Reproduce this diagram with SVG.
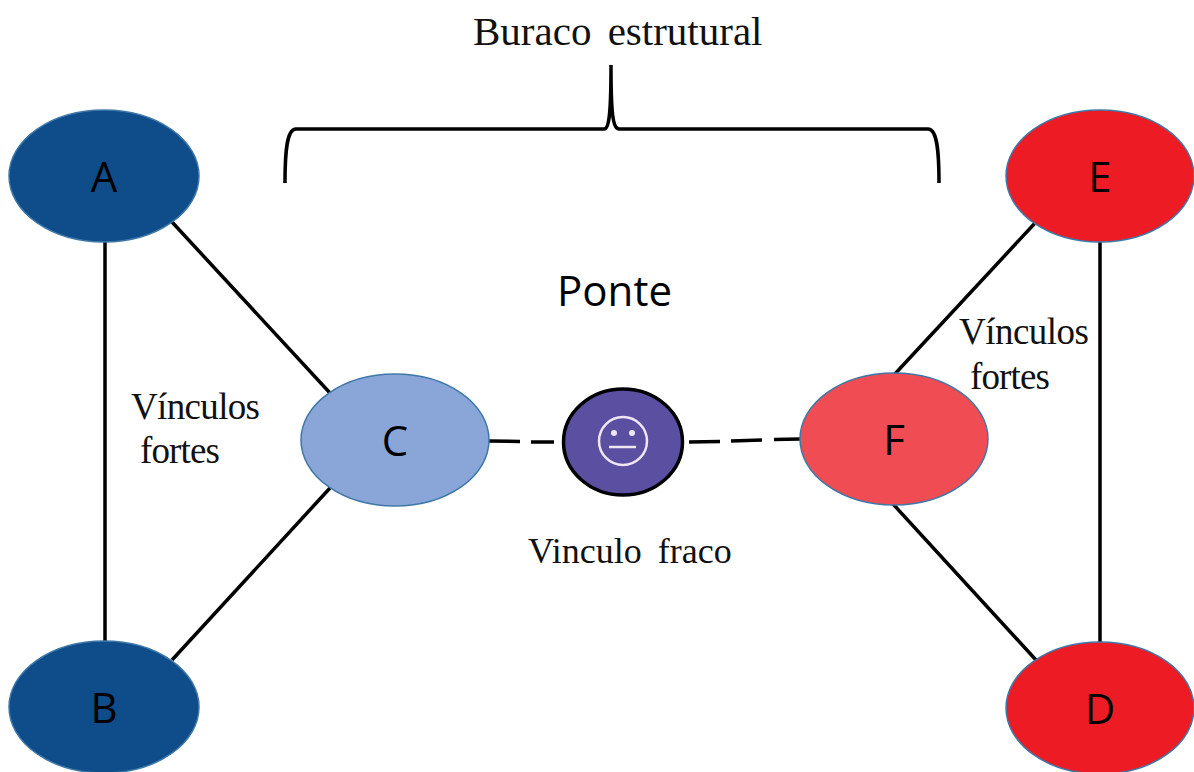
<svg xmlns="http://www.w3.org/2000/svg" width="1194" height="772" viewBox="0 0 1194 772">
<style>
.n{stroke:#3f78a8;stroke-width:1.5}
.l{font:42px "Open Sans","Liberation Sans",sans-serif;fill:#000;text-anchor:middle}
.t{font:37px "Liberation Serif",serif;fill:#111}
.c{fill:none;stroke:#000;stroke-width:3.5}
</style>
<rect width="1194" height="772" fill="#fff"/>
<g id="connectors">
<path class="c" d="M105 240V642M172 222L330 393M330 488L172 660M1100 240V642M1036 222L893 376M893 504L1036 660"/>
<path class="c" d="M489 441L520 441.500M531 442L554 442M689 442L720 441.500M731 441L762 440M774 439.500L800 439"/>
</g>
<g id="brace"><path d="M285 183C285 150 287 129 296 129H604C609 129 611 115 611 65C611 115 613 129 619 129H928C937 129 939 150 939 183" fill="none" stroke="#000" stroke-width="3.5"/></g>
<g id="A"><ellipse class="n" cx="104" cy="176" rx="95" ry="66" fill="#0f4c8a"/><text class="l" x="104" y="192">A</text></g>
<g id="B"><ellipse class="n" cx="104" cy="707" rx="95" ry="66" fill="#0f4c8a"/><text class="l" x="104" y="723">B</text></g>
<g id="C"><ellipse class="n" cx="395" cy="440" rx="94" ry="66" fill="#8aa6d8"/><text class="l" x="395" y="456">C</text></g>
<g id="E"><ellipse class="n" cx="1100" cy="176" rx="94" ry="66" fill="#ed1c24"/><text class="l" x="1100" y="192">E</text></g>
<g id="D"><ellipse class="n" cx="1100" cy="708" rx="94" ry="66" fill="#ed1c24"/><text class="l" x="1100" y="724">D</text></g>
<g id="F"><ellipse class="n" cx="894" cy="439" rx="94" ry="66" fill="#f04c54"/><text class="l" x="894" y="455">F</text></g>
<g id="bridge">
<ellipse cx="623" cy="442" rx="59.500" ry="53" fill="#5a4fa0" stroke="#000" stroke-width="3.500"/>
<circle cx="623" cy="441" r="24" fill="none" stroke="#eee6f4" stroke-width="2.500"/>
<circle cx="614" cy="433" r="3" fill="#eee6f4"/><circle cx="632" cy="433" r="3" fill="#eee6f4"/>
<path d="M609 447H636" stroke="#eee6f4" stroke-width="2.500"/>
</g>
<text class="t" x="473" y="45" style="font-size:41px;word-spacing:6px">Buraco estrutural</text>
<text x="557" y="306" style="font:42px 'Open Sans','Liberation Sans',sans-serif" textLength="115">Ponte</text>
<text class="t" x="131" y="419" textLength="129">Vínculos</text>
<text class="t" x="140" y="463" textLength="80">fortes</text>
<text class="t" x="959" y="344" textLength="130">Vínculos</text>
<text class="t" x="970" y="389" textLength="80">fortes</text>
<text class="t" x="528" y="563" style="font-size:36px;word-spacing:7px">Vinculo fraco</text>
</svg>
